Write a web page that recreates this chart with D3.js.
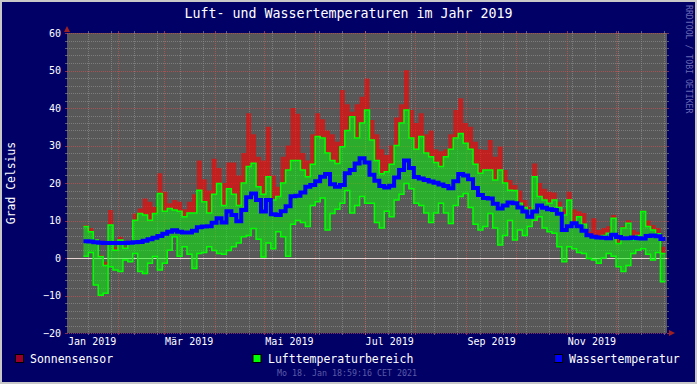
<!DOCTYPE html>
<html>
<head>
<meta charset="utf-8">
<script src="https://cdnjs.cloudflare.com/ajax/libs/d3/7.8.5/d3.min.js"></script>
<style>
body { margin: 0; background: #ffffff; }
svg text { font-family: "DejaVu Sans Mono", monospace; }
</style>
</head>
<body>
<div id="container"></div>
<script>

// Werte in 3-Tage-Schritten, erster Wert am 11. Jan 2019 (Tag 10 im Jahr)
var firstDay = 10;
var stepDays = 3;

var airMax = [8.4, 7.0, 4.8, 0.4, -2.0, 8.8, 2.1, 4.8, 2.6, 3.9,
	10.1, 11.9, 11.5, 10.1, 11.9, 17.2, 12.5, 13.2, 12.8, 12.5,
	11.0, 12.0, 12.0, 18.1, 15.0, 12.0, 17.0, 19.9, 14.0, 18.5,
	17.0, 14.0, 20.0, 24.4, 25.3, 19.0, 17.0, 21.7, 15.5, 16.4,
	20.0, 23.5, 26.0, 26.0, 23.5, 21.7, 25.0, 32.4, 32.0, 28.0,
	26.0, 25.2, 29.7, 34.0, 37.7, 32.0, 36.0, 39.5, 31.5, 26.0,
	22.5, 23.0, 25.0, 30.0, 36.0, 39.5, 32.0, 29.0, 32.4, 28.0,
	27.0, 25.5, 24.4, 27.0, 29.0, 32.0, 33.2, 30.6, 29.0, 25.0,
	22.6, 23.5, 23.5, 20.8, 23.5, 20.0, 18.1, 18.0, 14.6, 13.5,
	12.8, 21.7, 16.4, 15.5, 14.6, 15.5, 13.5, 11.5, 15.5, 9.0,
	11.0, 9.0, 6.1, 5.7, 5.7, 6.0, 6.6, 10.6, 3.9, 8.0,
	9.3, 4.8, 6.0, 12.4, 8.4, 7.5, 6.5, 1.2];

var airMin = [0.5, 1.5, -7.2, -9.9, -9.4, -2.3, -3.2, -3.6, -0.5, -1.0,
	1.2, -3.6, -4.1, -1.4, 0.4, -3.2, -1.4, 2.1, 5.7, 0.5,
	3.0, 1.0, -2.8, 1.2, 1.5, 3.0, 2.0, 1.2, 1.0, 2.0,
	3.0, 4.0, 5.7, 6.0, 7.9, 5.0, 0.3, 4.0, 2.5, 7.0,
	5.7, 0.5, 9.0, 10.0, 9.5, 8.4, 14.0, 15.0, 16.0, 7.5,
	11.9, 13.0, 14.6, 18.0, 12.0, 14.0, 16.4, 14.6, 14.6, 9.5,
	8.0, 12.5, 11.0, 15.5, 17.0, 19.9, 18.5, 14.6, 14.0, 12.0,
	9.5, 12.0, 14.6, 12.0, 9.2, 14.0, 16.4, 17.2, 13.5, 9.0,
	7.5, 8.4, 11.9, 8.0, 3.5, 6.0, 10.0, 4.8, 7.5, 6.0,
	8.4, 10.1, 11.0, 8.0, 7.0, 6.6, 3.0, -1.0, 3.0, 2.5,
	1.5, 1.2, -0.1, -0.5, -1.4, 0.0, 1.2, 0.5, -2.3, -3.6,
	-2.0, 1.2, 2.1, 2.5, 1.0, -0.5, 1.5, -6.3];

var sunMax = [8.8, 8.0, 5.0, 0.8, -1.0, 12.8, 3.0, 5.7, 3.0, 4.3,
	11.9, 13.2, 15.9, 15.0, 13.7, 22.6, 17.7, 14.6, 15.5, 15.0,
	13.0, 15.0, 17.0, 26.0, 21.0, 18.0, 26.5, 24.0, 20.0, 25.5,
	25.5, 22.0, 28.0, 38.6, 33.0, 27.0, 26.0, 35.0, 22.0, 19.0,
	27.0, 30.0, 40.0, 38.5, 28.0, 26.0, 33.0, 38.6, 37.0, 34.0,
	33.0, 31.0, 44.8, 41.0, 39.0, 41.0, 43.0, 47.9, 36.8, 33.0,
	29.0, 27.5, 30.0, 37.5, 41.0, 50.1, 39.5, 36.0, 38.6, 33.0,
	34.0, 29.0, 28.5, 29.0, 33.0, 39.5, 42.6, 36.0, 35.0, 31.0,
	29.0, 28.8, 31.5, 27.0, 29.7, 23.5, 20.8, 19.5, 18.0, 15.5,
	13.7, 25.2, 20.0, 18.5, 17.7, 17.5, 15.0, 13.0, 17.7, 13.0,
	12.5, 12.0, 7.0, 10.6, 7.5, 8.0, 8.5, 11.5, 5.5, 8.5,
	10.1, 7.5, 7.0, 12.6, 10.0, 8.8, 8.0, 3.0];

var water = [4.5, 4.4, 4.2, 4.1, 4.0, 4.0, 4.0, 4.0, 4.0, 4.1,
	4.2, 4.3, 4.6, 5.0, 5.4, 5.9, 6.5, 7.0, 7.4, 7.0,
	6.8, 6.8, 7.3, 8.2, 8.4, 8.5, 9.4, 10.6, 9.5, 12.5,
	11.5, 9.8, 12.8, 16.2, 17.2, 15.5, 12.4, 15.5, 11.7, 11.5,
	12.5, 13.8, 16.5, 16.6, 17.5, 19.0, 19.5, 20.5, 21.7, 22.4,
	19.7, 19.0, 19.5, 22.6, 23.5, 25.2, 26.6, 25.5, 22.2, 20.6,
	19.2, 18.8, 19.3, 21.5, 23.5, 26.0, 24.0, 21.6, 21.2, 20.8,
	20.4, 20.1, 19.6, 19.2, 18.6, 20.5, 22.4, 22.0, 21.0, 18.7,
	16.8, 16.0, 15.9, 14.5, 13.2, 14.0, 14.8, 14.6, 13.5, 12.4,
	11.0, 12.4, 14.0, 13.4, 13.0, 12.8, 11.8, 7.5, 8.5, 9.3,
	8.5, 7.3, 6.1, 5.7, 5.5, 5.4, 5.3, 6.2, 5.6, 5.3,
	5.3, 5.5, 5.3, 5.2, 5.9, 6.0, 5.8, 5.1];

var labelMonths = [0, 2, 4, 6, 8, 10];
var monthLabels = ["Jan 2019", "Mär 2019", "Mai 2019", "Jul 2019", "Sep 2019", "Nov 2019"];
var yTicks = [-20, -10, 0, 10, 20, 30, 40, 50, 60];
var legendNames = ["Sonnensensor", "Lufttemperaturbereich", "Wassertemperatur"];
var legendColors = ["rgba(255,0,0,0.6)", "#00ff00", "#0000ff"];

var title = "Luft- und Wassertemperaturen im Jahr 2019";
var yTitle = "Grad Celsius";
var stamp = "Mo 18. Jan 18:59:16 CET 2021";
var watermark = "RRDTOOL / TOBI OETIKER";


function makerows() {
	var rows = [];
	for (var i = 0; i < water.length; i++) {
		rows.push({date: new Date(Date.UTC(2019, 0, 1 + firstDay + i * stepDays)),
			max: airMax[i], min: airMin[i], sun: sunMax[i], water: water[i]});
	};
	// letzter Schritt braucht einen Endpunkt
	var last = rows[rows.length - 1];
	rows.push({date: d3.utcDay.offset(last.date, stepDays), max: last.max, min: last.min, sun: last.sun, water: last.water});
	return rows;
};


function drawgrid(g, x, y) {
	var x0 = 67, x1 = 667, y0 = 333, y1 = 33;
	var minorColor = "rgba(150,150,150,0.6)";
	var majorColor = "rgba(220,80,80,0.6)";

	var hminor = d3.range(-20, 61, 2).filter(function(v) { return v % 10 != 0; });
	var vminor = d3.utcDay.range(new Date(Date.UTC(2019, 0, 14)), new Date(Date.UTC(2020, 0, 1)), 14);
	var vmajor = d3.utcMonth.range(new Date(Date.UTC(2019, 1, 1)), new Date(Date.UTC(2020, 0, 1)));

	function hlines(vals, color) {
		g.selectAll(null).data(vals).enter().append("line")
			.attr("x1", x0).attr("x2", x1)
			.attr("y1", function(d) { return Math.round(y(d)) + 0.5; })
			.attr("y2", function(d) { return Math.round(y(d)) + 0.5; })
			.attr("stroke", color).attr("stroke-dasharray", "1,1");
		// kleine Ticks links und rechts
		[[x0 - 2, x0], [x1, x1 + 2]].forEach(function(p) {
			g.selectAll(null).data(vals).enter().append("line")
				.attr("x1", p[0]).attr("x2", p[1])
				.attr("y1", function(d) { return Math.round(y(d)) + 0.5; })
				.attr("y2", function(d) { return Math.round(y(d)) + 0.5; })
				.attr("stroke", color);
		});
	};

	function vlines(vals, color) {
		g.selectAll(null).data(vals).enter().append("line")
			.attr("y1", y1).attr("y2", y0)
			.attr("x1", function(d) { return Math.round(x(d)) + 0.5; })
			.attr("x2", function(d) { return Math.round(x(d)) + 0.5; })
			.attr("stroke", color).attr("stroke-dasharray", "1,1");
		[[y1 - 2, y1], [y0, y0 + 2]].forEach(function(p) {
			g.selectAll(null).data(vals).enter().append("line")
				.attr("y1", p[0]).attr("y2", p[1])
				.attr("x1", function(d) { return Math.round(x(d)) + 0.5; })
				.attr("x2", function(d) { return Math.round(x(d)) + 0.5; })
				.attr("stroke", color);
		});
	};

	hlines(hminor, minorColor);
	vlines(vminor, minorColor);
	hlines(yTicks, majorColor);
	vlines(vmajor, majorColor);
};


function drawit(rows) {
	var W = 697, H = 384;
	var svg = d3.select("#container").append("svg")
		.attr("width", W).attr("height", H);

	// Hintergrund und Rahmen
	svg.append("rect").attr("width", W).attr("height", H).attr("fill", "#c8c8c8");
	svg.append("rect").attr("x", 2).attr("y", 2).attr("width", W - 4).attr("height", H - 4).attr("fill", "#000066");

	var x = d3.scaleUtc()
		.domain([new Date(Date.UTC(2019, 0, 1)), new Date(Date.UTC(2020, 0, 1))])
		.range([67, 667]);
	var y = d3.scaleLinear().domain([-20, 60]).range([333, 33]);

	svg.append("rect").attr("x", 67).attr("y", 33).attr("width", 600).attr("height", 300).attr("fill", "#585858");

	var grid = svg.append("g");
	drawgrid(grid, x, y);

	// Nulllinie
	svg.append("line").attr("x1", 67).attr("x2", 667)
		.attr("y1", Math.round(y(0)) + 0.5).attr("y2", Math.round(y(0)) + 0.5)
		.attr("stroke", "#e8d4d4").attr("stroke-width", 1);

	var sunArea = d3.area().curve(d3.curveStepAfter)
		.x(function(d) { return x(d.date); })
		.y0(function(d) { return y(d.max); })
		.y1(function(d) { return y(d.sun); });
	var airArea = d3.area().curve(d3.curveStepAfter)
		.x(function(d) { return x(d.date); })
		.y0(function(d) { return y(d.min); })
		.y1(function(d) { return y(d.max); });
	var stepLine = function(key) {
		return d3.line().curve(d3.curveStepAfter)
			.x(function(d) { return x(d.date); })
			.y(function(d) { return y(d[key]); });
	};

	svg.append("path").datum(rows).attr("d", sunArea).attr("fill", "rgba(255,0,0,0.62)");
	svg.append("path").datum(rows).attr("d", airArea).attr("fill", "rgba(0,255,0,0.5)");
	svg.append("path").datum(rows).attr("d", stepLine("max")).attr("fill", "none").attr("stroke", "#00ff00").attr("stroke-width", 1.5);
	svg.append("path").datum(rows).attr("d", stepLine("min")).attr("fill", "none").attr("stroke", "#00ff00").attr("stroke-width", 1.5);
	svg.append("path").datum(rows).attr("d", stepLine("water")).attr("fill", "none").attr("stroke", "#0000ff").attr("stroke-width", 4);

	// Pfeile
	svg.append("path").attr("d", "M64,32 L70,32 L67,26 Z").attr("fill", "#a02020");
	svg.append("path").attr("d", "M669,330 L669,336 L675,333 Z").attr("fill", "#a02020");

	// Achsen
	var xAxis = d3.axisBottom(x)
		.tickValues(labelMonths.map(function(m) { return new Date(Date.UTC(2019, m, 16)); }))
		.tickFormat(function(d, i) { return monthLabels[i]; })
		.tickSize(0).tickPadding(0);
	var gx = svg.append("g").attr("transform", "translate(0,338)").call(xAxis);
	gx.select(".domain").remove();
	gx.selectAll("text").attr("dy", "0.71em").attr("fill", "#ffffff")
		.style("font-family", "DejaVu Sans Mono").style("font-size", "10px");

	var yAxis = d3.axisLeft(y).tickValues(yTicks).tickSize(0).tickPadding(0);
	var gy = svg.append("g").attr("transform", "translate(61,0)").call(yAxis);
	gy.select(".domain").remove();
	gy.selectAll("text").attr("fill", "#ffffff")
		.style("font-family", "DejaVu Sans Mono").style("font-size", "10px");

	// Titel und Beschriftung
	svg.append("text").attr("x", 348.5).attr("y", 18).attr("text-anchor", "middle")
		.attr("fill", "#ffffff").style("font-size", "13.3px").text(title);
	svg.append("text").attr("transform", "translate(15,183) rotate(-90)").attr("text-anchor", "middle")
		.attr("fill", "#ffffff").style("font-size", "11.4px").text(yTitle);
	svg.append("text").attr("transform", "translate(686,5) rotate(90)")
		.attr("fill", "#6a6ab4").style("font-size", "8.2px").text(watermark);

	// Legende
	var legendX = [15.5, 253, 554.5];
	var legendTextX = [30, 268, 569];
	var lg = svg.selectAll(".legend").data(legendNames).enter().append("g").attr("class", "legend");
	lg.append("rect")
		.attr("x", function(d, i) { return legendX[i]; }).attr("y", 354.5)
		.attr("width", 8).attr("height", 8)
		.attr("fill", function(d, i) { return legendColors[i]; })
		.attr("stroke", "#000000").attr("stroke-width", 1);
	lg.append("text")
		.attr("x", function(d, i) { return legendTextX[i]; }).attr("y", 363)
		.attr("fill", "#ffffff").style("font-size", "11.5px")
		.text(function(d) { return d; });

	svg.append("text").attr("x", 347).attr("y", 375.5).attr("text-anchor", "middle")
		.attr("fill", "#5c5ca8").style("font-size", "8.3px").text(stamp);
};


function main() {
	var rows = makerows();
	drawit(rows);
};


main()

</script>
</body>
</html>
